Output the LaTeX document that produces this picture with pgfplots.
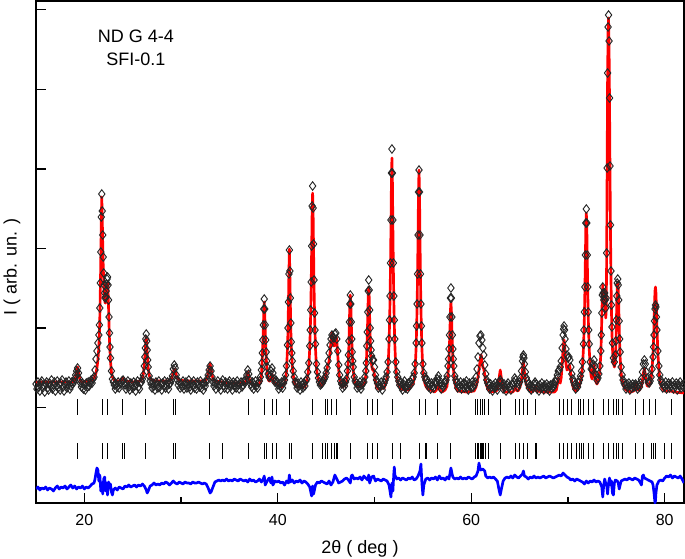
\documentclass[border=0pt]{standalone}
\usepackage{fontspec}
\setmainfont{Liberation Sans}
\usepackage{pgfplots}
\pgfplotsset{compat=1.18}
\begin{document}
\begin{tikzpicture}
\begin{axis}[
  at={(0,0)}, anchor=south west,
  scale only axis, width=486pt, height=376.5pt,
  xmin=15, xmax=82, ymin=0, ymax=502,
  axis line style={line width=1.3pt},
  xtick={20,40,60,80}, minor xtick={30,50,70},
  xtick pos=bottom, ytick pos=left,
  ytick={15.7,95.3,174.9,254.5,334.1,413.7,493.3}, yticklabels={},
  tick align=inside,
  major tick length=7.5pt, minor tick length=4.5pt,
  every tick/.style={black, line width=1pt},
  /pgf/number format/assume math mode=true,
  xticklabel style={font=\fontsize{12}{14}\selectfont, yshift=-5pt},
  xlabel={2θ ( deg )},
  xlabel style={font=\fontsize{13.5}{16}\selectfont, at={(axis description cs:0.5,-0.1006)}, anchor=base},
  ylabel={I ( arb. un. )},
  ylabel style={font=\fontsize{13.5}{16}\selectfont, at={(axis description cs:-0.037,0.47)}, anchor=center},
  clip=true,
]
% observed
\addplot[only marks, mark=diamond, mark size=3.2pt, black!85, mark options={line width=0.7pt, fill=none}] coordinates {
(15.0,119)(15.1,114)(15.2,121)(15.3,116)(15.4,112)(15.5,120)(15.6,122)(15.7,115)(15.8,118)(15.9,111)
(16.0,119)(16.1,121)(16.2,115)(16.3,113)(16.4,120)(16.5,117)(16.6,123)(16.7,114)(16.8,118)(16.9,121)
(17.0,112)(17.1,117)(17.2,122)(17.3,115)(17.4,119)(17.5,113)(17.6,120)(17.7,123)(17.8,116)(17.9,112)
(18.0,119)(18.1,121)(18.2,115)(18.3,118)(18.4,122)(18.5,114)(18.6,117)(18.7,121)(18.8,119)(18.9,121)
(19.0,124)(19.1,128)(19.2,132)(19.3,135)(19.4,130)(19.5,124)(19.6,120)(19.7,116)(19.8,120)(19.9,114)
(20.0,118)(20.1,113)(20.2,120)(20.3,116)(20.4,121)(20.5,117)(20.6,120)(20.7,123)(20.8,120)(20.9,124)
(21.0,126)(21.1,133)(21.2,144)(21.3,152)(21.4,160)(21.5,168)(21.55,178)(21.6,195)(21.65,220)(21.7,251)
(21.75,286)(21.8,309)(21.85,292)(21.9,268)(21.95,246)(22.0,230)(22.05,218)(22.1,210)(22.15,205)(22.2,206)
(22.25,212)(22.3,219)(22.35,224)(22.4,226)(22.45,218)(22.5,203)(22.55,186)(22.6,170)(22.65,156)(22.7,145)
(22.8,132)(22.9,124)(23.0,121)(23.1,118)(23.2,114)(23.3,119)(23.4,116)(23.5,121)(23.6,115)(23.7,119)
(23.8,120)(23.9,122)(24.0,123)(24.1,120)(24.2,118)(24.3,114)(24.4,119)(24.5,122)(24.6,116)(24.7,113)
(24.8,120)(24.9,118)(25.0,115)(25.1,121)(25.2,117)(25.3,112)(25.4,119)(25.5,122)(25.6,116)(25.7,114)
(25.8,120)(25.9,121)(26.0,124)(26.1,128)(26.2,137)(26.25,146)(26.3,155)(26.35,164)(26.4,169)(26.45,162)
(26.5,153)(26.55,143)(26.6,136)(26.7,127)(26.8,122)(26.9,119)(27.0,115)(27.1,120)(27.2,117)(27.3,113)
(27.4,121)(27.5,118)(27.6,115)(27.7,122)(27.8,116)(27.9,119)(28.0,113)(28.1,120)(28.2,117)(28.3,122)
(28.4,115)(28.5,118)(28.6,121)(28.7,114)(28.8,119)(28.9,120)(29.0,123)(29.1,127)(29.2,134)(29.3,138)
(29.4,135)(29.5,128)(29.6,123)(29.7,118)(29.8,121)(29.9,115)(30.0,119)(30.1,116)(30.2,122)(30.3,114)
(30.4,118)(30.5,121)(30.6,115)(30.7,119)(30.8,123)(30.9,116)(31.0,113)(31.1,120)(31.2,117)(31.3,122)
(31.4,115)(31.5,119)(31.6,114)(31.7,121)(31.8,118)(31.9,116)(32.0,122)(32.1,115)(32.2,119)(32.3,113)
(32.4,120)(32.5,117)(32.6,121)(32.7,124)(32.8,128)(32.9,133)(33.0,137)(33.1,132)(33.2,126)(33.3,121)
(33.4,117)(33.5,120)(33.6,114)(33.7,119)(33.8,122)(33.9,116)(34.0,118)(34.1,113)(34.2,120)(34.3,123)
(34.4,117)(34.5,115)(34.6,121)(34.7,118)(34.8,114)(34.9,120)(35.0,122)(35.1,116)(35.2,119)(35.3,113)
(35.4,121)(35.5,117)(35.6,120)(35.7,115)(35.8,122)(35.9,118)(36.0,114)(36.1,119)(36.2,121)(36.3,116)
(36.4,118)(36.5,122)(36.6,120)(36.7,123)(36.8,128)(36.9,133)(37.0,129)(37.1,123)(37.2,119)(37.3,116)
(37.4,121)(37.5,114)(37.6,118)(37.7,122)(37.8,117)(37.9,115)(38.0,120)(38.1,122)(38.2,126)(38.3,133)
(38.35,140)(38.4,150)(38.45,163)(38.5,178)(38.55,194)(38.6,204)(38.65,194)(38.7,178)(38.75,163)(38.8,151)
(38.85,142)(38.9,136)(39.0,129)(39.1,126)(39.2,127)(39.3,132)(39.4,135)(39.5,130)(39.6,124)(39.7,121)
(39.8,123)(39.9,121)(40.0,118)(40.1,114)(40.2,119)(40.3,116)(40.4,121)(40.5,115)(40.6,120)(40.7,123)
(40.8,128)(40.9,137)(41.0,158)(41.05,175)(41.1,201)(41.15,229)(41.2,253)(41.25,232)(41.3,205)(41.35,180)
(41.4,161)(41.45,150)(41.5,142)(41.6,132)(41.7,126)(41.8,121)(41.9,119)(42.0,115)(42.1,120)(42.2,117)
(42.3,113)(42.4,121)(42.5,118)(42.6,115)(42.7,120)(42.8,117)(42.9,122)(43.0,124)(43.1,131)(43.2,140)
(43.3,157)(43.35,173)(43.4,193)(43.45,221)(43.5,257)(43.55,297)(43.6,317)(43.65,295)(43.7,259)(43.75,223)
(43.8,190)(43.85,173)(43.9,159)(44.0,139)(44.1,131)(44.2,125)(44.3,121)(44.4,118)(44.5,119)(44.6,120)
(44.7,122)(44.8,124)(44.9,126)(45.0,130)(45.1,135)(45.2,142)(45.3,150)(45.4,158)(45.5,164)(45.6,168)
(45.7,166)(45.8,165)(45.9,169)(46.0,170)(46.1,164)(46.2,152)(46.3,138)(46.4,128)(46.5,122)(46.6,119)
(46.7,115)(46.8,120)(46.9,117)(47.0,121)(47.1,124)(47.2,132)(47.25,139)(47.3,148)(47.35,162)(47.4,181)
(47.45,199)(47.5,208)(47.55,199)(47.6,181)(47.65,164)(47.7,151)(47.75,142)(47.8,136)(47.9,126)(48.0,122)
(48.1,120)(48.2,115)(48.3,119)(48.4,116)(48.5,121)(48.6,114)(48.7,118)(48.8,120)(48.9,121)(49.0,126)
(49.1,132)(49.15,140)(49.2,157)(49.25,171)(49.3,191)(49.35,212)(49.4,223)(49.45,213)(49.5,193)(49.55,175)
(49.6,162)(49.65,153)(49.7,147)(49.8,143)(49.9,143)(50.0,136)(50.1,128)(50.2,123)(50.3,120)(50.4,115)
(50.5,119)(50.6,116)(50.7,121)(50.8,113)(50.9,118)(51.0,120)(51.1,123)(51.2,126)(51.3,131)(51.4,141)
(51.5,164)(51.55,183)(51.6,207)(51.65,240)(51.7,283)(51.75,330)(51.8,354)(51.85,330)(51.9,283)(51.95,240)
(52.0,207)(52.05,183)(52.1,164)(52.2,141)(52.3,131)(52.4,126)(52.5,122)(52.6,118)(52.7,121)(52.8,116)
(52.9,113)(53.0,119)(53.1,122)(53.2,115)(53.3,118)(53.4,114)(53.5,120)(53.6,117)(53.7,121)(53.8,119)
(53.9,124)(54.0,126)(54.1,130)(54.2,139)(54.3,160)(54.35,177)(54.4,199)(54.45,229)(54.5,268)(54.55,311)
(54.6,333)(54.65,311)(54.7,268)(54.75,229)(54.8,199)(54.85,177)(54.9,160)(55.0,139)(55.1,130)(55.2,126)
(55.3,123)(55.4,124)(55.5,120)(55.6,116)(55.7,119)(55.8,114)(55.9,120)(56.0,117)(56.1,115)(56.2,121)
(56.3,119)(56.4,121)(56.5,124)(56.6,127)(56.7,123)(56.8,119)(56.9,114)(57.0,118)(57.1,116)(57.2,120)
(57.3,121)(57.4,123)(57.5,127)(57.6,137)(57.65,144)(57.7,154)(57.75,168)(57.8,186)(57.85,205)(57.9,215)
(57.95,205)(58.0,186)(58.05,168)(58.1,154)(58.15,144)(58.2,137)(58.3,127)(58.4,123)(58.5,120)(58.6,115)
(58.7,119)(58.8,116)(58.9,121)(59.0,114)(59.1,118)(59.2,120)(59.3,115)(59.4,119)(59.5,122)(59.6,116)
(59.7,113)(59.8,120)(59.9,117)(60.0,115)(60.1,121)(60.2,116)(60.3,118)(60.4,121)(60.5,126)(60.6,134)
(60.7,146)(60.8,160)(60.9,167)(61.0,168)(61.1,163)(61.2,155)(61.3,148)(61.4,138)(61.5,129)(61.6,123)
(61.7,120)(61.8,118)(61.9,114)(62.0,119)(62.1,116)(62.2,112)(62.3,118)(62.4,115)(62.5,120)(62.6,117)
(62.7,113)(62.8,117)(62.9,121)(63.0,123)(63.1,121)(63.2,118)(63.3,114)(63.4,119)(63.5,116)(63.6,112)
(63.7,118)(63.8,120)(63.9,115)(64.0,117)(64.1,113)(64.2,119)(64.3,118)(64.4,121)(64.5,125)(64.6,123)
(64.7,120)(64.8,116)(64.9,119)(65.0,121)(65.1,125)(65.2,132)(65.3,142)(65.35,146)(65.4,148)(65.45,145)
(65.5,139)(65.6,131)(65.7,125)(65.8,122)(65.9,119)(66.0,115)(66.1,118)(66.2,113)(66.3,117)(66.4,115)
(66.5,119)(66.6,121)(66.7,119)(66.8,114)(66.9,117)(67.0,112)(67.1,118)(67.2,115)(67.3,120)(67.4,116)
(67.5,113)(67.6,118)(67.7,115)(67.8,119)(67.9,114)(68.0,117)(68.1,112)(68.2,118)(68.3,115)(68.4,119)
(68.5,116)(68.6,119)(68.7,121)(68.8,124)(68.9,128)(69.0,132)(69.1,133)(69.2,136)(69.3,142)(69.4,155)
(69.5,168)(69.55,174)(69.6,177)(69.65,173)(69.7,164)(69.8,154)(69.9,148)(70.0,145)(70.1,146)(70.2,143)
(70.3,136)(70.4,129)(70.5,124)(70.6,121)(70.7,118)(70.8,114)(70.9,118)(71.0,116)(71.1,120)(71.2,123)
(71.3,127)(71.4,132)(71.5,141)(71.6,159)(71.65,173)(71.7,191)(71.75,216)(71.8,248)(71.85,280)(71.9,294)
(71.95,280)(72.0,248)(72.05,216)(72.1,191)(72.15,173)(72.2,159)(72.3,141)(72.4,134)(72.5,133)(72.6,139)
(72.7,143)(72.8,137)(72.9,128)(73.0,123)(73.1,125)(73.2,129)(73.3,137)(73.4,152)(73.45,168)(73.5,190)
(73.55,208)(73.6,216)(73.65,210)(73.7,203)(73.75,207)(73.8,210)(73.85,203)(73.9,195)(73.95,205)(74.0,250)
(74.05,335)(74.1,430)(74.15,476)(74.2,488)(74.25,462)(74.3,405)(74.35,337)(74.4,278)(74.45,232)(74.5,198)
(74.55,176)(74.6,160)(74.7,145)(74.8,141)(74.9,148)(74.95,162)(75.0,183)(75.05,207)(75.1,220)(75.15,224)
(75.2,218)(75.25,203)(75.3,182)(75.35,164)(75.4,151)(75.5,136)(75.6,128)(75.7,123)(75.8,120)(75.9,118)
(76.0,114)(76.1,119)(76.2,116)(76.3,120)(76.4,113)(76.5,118)(76.6,115)(76.7,119)(76.8,116)(76.9,118)
(77.0,119)(77.1,117)(77.2,114)(77.3,118)(77.4,116)(77.5,120)(77.6,124)(77.7,131)(77.8,139)(77.9,143)
(78.0,139)(78.1,131)(78.2,125)(78.3,121)(78.4,120)(78.5,122)(78.6,126)(78.7,134)(78.8,146)(78.85,156)
(78.9,168)(78.95,182)(79.0,194)(79.05,198)(79.1,196)(79.15,186)(79.2,173)(79.3,152)(79.4,137)(79.5,128)
(79.6,123)(79.7,120)(79.8,115)(79.9,119)(80.0,116)(80.1,121)(80.2,114)(80.3,118)(80.4,120)(80.5,115)
(80.6,119)(80.7,117)(80.8,121)(80.9,114)(81.0,118)(81.1,116)(81.2,120)(81.3,113)(81.4,119)(81.5,117)
(81.6,121)(81.7,115)(81.8,118)(81.9,116)(82.0,119)
};
% calculated
\addplot[red, line width=2pt, line join=round] coordinates {
(15.0,121)(16.0,121)(17.0,121)(18.0,121)(18.8,121)(19.0,123)(19.1,126)(19.2,131)(19.3,136)(19.4,131)
(19.5,125)(19.6,122)(19.8,121)(20.5,122)(20.8,123)(21.0,125)(21.1,127)(21.2,130)(21.3,135)(21.4,143)
(21.5,156)(21.55,168)(21.6,186)(21.65,212)(21.7,243)(21.75,280)(21.8,306)(21.85,285)(21.9,258)(21.95,237)
(22.0,222)(22.05,211)(22.1,204)(22.15,200)(22.2,200)(22.25,206)(22.3,213)(22.35,219)(22.4,220)(22.45,212)
(22.5,196)(22.55,178)(22.6,162)(22.7,142)(22.8,131)(22.9,126)(23.0,124)(23.2,122)(23.6,122)(23.8,123)
(23.9,125)(24.0,125)(24.1,123)(24.3,122)(25.0,121)(25.8,122)(26.0,125)(26.1,129)(26.2,138)(26.3,153)
(26.35,161)(26.4,166)(26.45,159)(26.5,150)(26.6,135)(26.7,128)(26.8,125)(27.0,123)(27.5,122)(28.8,122)
(29.0,124)(29.1,127)(29.2,131)(29.3,134)(29.4,133)(29.5,128)(29.6,125)(29.8,123)(30.5,122)(32.5,122)
(32.7,125)(32.8,130)(32.9,135)(33.0,139)(33.1,134)(33.2,128)(33.3,124)(33.5,122)(35.0,120)(36.5,120)
(36.7,122)(36.8,126)(36.9,131)(37.0,127)(37.1,122)(37.3,119)(38.0,118)(38.2,121)(38.3,127)(38.35,135)
(38.4,145)(38.45,158)(38.5,172)(38.55,190)(38.6,201)(38.65,190)(38.7,172)(38.75,158)(38.8,146)(38.85,137)
(38.9,131)(39.0,124)(39.1,122)(39.2,122)(39.3,125)(39.4,129)(39.5,124)(39.6,120)(39.8,119)(39.9,120)
(40.0,118)(40.4,116)(40.7,119)(40.8,124)(40.9,132)(41.0,154)(41.05,171)(41.1,198)(41.15,230)(41.2,254)
(41.25,228)(41.3,198)(41.35,172)(41.4,156)(41.45,146)(41.5,138)(41.6,128)(41.7,122)(41.8,119)(42.0,116)
(42.8,116)(43.0,123)(43.1,127)(43.2,135)(43.3,154)(43.35,170)(43.4,189)(43.45,216)(43.5,252)(43.55,291)
(43.6,310)(43.65,291)(43.7,252)(43.75,216)(43.8,189)(43.85,170)(43.9,154)(44.0,135)(44.1,127)(44.2,123)
(44.3,120)(44.5,117)(44.7,119)(44.8,121)(44.9,124)(45.0,129)(45.1,135)(45.2,138)(45.3,142)(45.4,150)
(45.5,162)(45.55,168)(45.6,170)(45.65,167)(45.7,161)(45.8,157)(45.9,158)(45.95,162)(46.0,165)(46.05,166)
(46.1,162)(46.2,148)(46.3,133)(46.4,124)(46.5,119)(46.7,116)(47.0,118)(47.1,121)(47.2,128)(47.25,136)
(47.3,144)(47.35,157)(47.4,180)(47.45,199)(47.5,208)(47.55,199)(47.6,180)(47.65,163)(47.7,149)(47.75,140)
(47.8,133)(47.9,124)(48.0,120)(48.2,116)(48.8,117)(49.0,121)(49.1,128)(49.15,135)(49.2,153)(49.25,167)
(49.3,185)(49.35,206)(49.4,216)(49.45,206)(49.5,185)(49.55,167)(49.6,152)(49.7,138)(49.8,133)(49.85,133)
(49.9,134)(50.0,128)(50.1,121)(50.2,117)(50.4,114)(51.0,115)(51.2,121)(51.3,126)(51.4,135)(51.5,159)
(51.55,177)(51.6,201)(51.65,233)(51.7,275)(51.75,322)(51.8,345)(51.85,322)(51.9,275)(51.95,233)(52.0,201)
(52.05,177)(52.1,159)(52.2,135)(52.3,126)(52.4,121)(52.5,118)(52.7,114)(53.5,113)(53.9,118)(54.0,120)
(54.1,124)(54.2,133)(54.3,155)(54.35,173)(54.4,195)(54.45,226)(54.5,266)(54.55,311)(54.6,333)(54.65,311)
(54.7,266)(54.75,226)(54.8,195)(54.85,173)(54.9,155)(55.0,133)(55.1,124)(55.2,120)(55.3,117)(55.5,114)
(56.0,112)(56.2,111)(56.4,113)(56.5,116)(56.6,120)(56.7,115)(56.8,112)(57.0,111)(57.3,113)(57.5,117)
(57.6,129)(57.65,136)(57.7,145)(57.75,158)(57.8,174)(57.85,192)(57.9,201)(57.95,192)(58.0,174)(58.05,158)
(58.1,145)(58.15,136)(58.2,129)(58.3,120)(58.4,116)(58.6,112)(59.5,111)(60.3,112)(60.5,116)(60.6,120)
(60.7,126)(60.8,133)(60.9,141)(61.0,148)(61.05,147)(61.1,142)(61.2,136)(61.3,134)(61.4,128)(61.5,121)
(61.6,117)(61.8,113)(62.0,111)(62.6,112)(62.7,114)(62.8,118)(62.9,126)(63.0,133)(63.1,126)(63.2,118)
(63.3,114)(63.5,111)(64.3,111)(64.45,113)(64.55,116)(64.65,113)(64.8,112)(64.9,113)(65.0,115)(65.1,118)
(65.2,124)(65.3,133)(65.35,138)(65.4,140)(65.45,137)(65.5,131)(65.6,123)(65.7,118)(65.8,117)(65.9,114)
(66.1,112)(66.3,111)(66.5,113)(66.6,117)(66.7,115)(66.8,112)(67.5,111)(68.6,111)(68.8,113)(68.9,118)
(69.0,125)(69.1,121)(69.2,120)(69.3,125)(69.4,138)(69.5,154)(69.55,160)(69.6,163)(69.65,159)(69.7,150)
(69.8,139)(69.9,133)(70.0,134)(70.1,137)(70.15,138)(70.2,136)(70.3,128)(70.4,121)(70.5,117)(70.6,114)
(70.8,112)(71.0,114)(71.2,118)(71.3,122)(71.4,127)(71.5,136)(71.6,154)(71.65,168)(71.7,186)(71.75,211)
(71.8,243)(71.85,276)(71.9,290)(71.95,276)(72.0,243)(72.05,211)(72.1,186)(72.15,168)(72.2,154)(72.3,136)
(72.4,127)(72.5,124)(72.6,130)(72.65,136)(72.7,138)(72.75,134)(72.8,127)(72.9,121)(73.0,119)(73.1,121)
(73.2,125)(73.3,133)(73.4,149)(73.45,165)(73.5,185)(73.55,207)(73.6,218)(73.65,208)(73.7,198)(73.75,206)
(73.8,213)(73.85,200)(73.9,185)(73.95,190)(74.0,240)(74.05,330)(74.1,425)(74.15,472)(74.2,485)(74.25,458)
(74.3,400)(74.35,330)(74.4,270)(74.45,225)(74.5,192)(74.55,170)(74.6,155)(74.7,140)(74.8,136)(74.9,142)
(74.95,155)(75.0,175)(75.05,200)(75.1,216)(75.15,221)(75.2,214)(75.25,198)(75.3,176)(75.35,158)(75.4,145)
(75.5,130)(75.6,123)(75.7,119)(75.8,116)(76.0,113)(76.5,111)(76.8,112)(76.9,115)(77.0,120)(77.1,116)
(77.2,113)(77.4,113)(77.6,117)(77.7,122)(77.8,130)(77.9,134)(78.0,129)(78.1,121)(78.2,117)(78.4,117)
(78.5,119)(78.6,124)(78.7,134)(78.8,150)(78.85,162)(78.9,178)(78.95,198)(79.0,212)(79.05,216)(79.1,210)
(79.15,194)(79.2,176)(79.3,150)(79.4,134)(79.5,124)(79.6,118)(79.8,114)(80.0,112)(80.6,112)(81.0,111)
(82.0,110)
};
% Bragg positions, phase 1
\addplot[only marks, mark=|, mark size=6pt, black, mark options={line width=0.75pt}] coordinates {
(19.25,96)(21.84,96)(22.36,96)(23.98,96)(26.36,96)(29.23,96)(29.40,96)(32.96,96)(36.93,96)(38.59,96)
(39.42,96)(39.87,96)(41.18,96)(43.63,96)(44.95,96)(45.19,96)(45.60,96)(46.05,96)(47.54,96)(49.30,96)
(49.82,96)(50.34,96)(51.82,96)(54.65,96)(55.24,96)(56.52,96)(57.90,96)(60.42,96)(60.70,96)(60.94,96)
(61.15,96)(61.39,96)(61.80,96)(63.01,96)(64.57,96)(65.01,96)(65.36,96)(65.78,96)(66.64,96)(69.16,96)
(69.57,96)(69.92,96)(70.37,96)(71.06,96)(71.30,96)(71.64,96)(72.16,96)(72.68,96)(73.65,96)(74.17,96)
(74.69,96)(75.03,96)(75.27,96)(75.62,96)(77.03,96)(77.80,96)(78.48,96)(79.04,96)(80.66,96)
};
% Bragg positions, phase 2
\addplot[only marks, mark=|, mark size=6pt, black, mark options={line width=0.75pt}] coordinates {
(19.25,52)(21.84,52)(22.36,52)(23.98,52)(24.18,52)(26.36,52)(29.23,52)(29.40,52)(32.96,52)(34.27,52)
(36.93,52)(38.59,52)(38.87,52)(39.42,52)(39.87,52)(41.18,52)(41.42,52)(43.63,52)(44.67,52)(44.95,52)
(45.19,52)(45.60,52)(45.88,52)(46.05,52)(46.22,52)(47.54,52)(49.30,52)(49.82,52)(50.34,52)(51.82,52)
(52.68,52)(54.65,52)(55.24,52)(55.41,52)(56.52,52)(57.90,52)(60.42,52)(60.60,52)(60.70,52)(60.76,52)
(60.94,52)(61.11,52)(61.15,52)(61.28,52)(61.46,52)(61.80,52)(63.01,52)(64.57,52)(65.01,52)(65.36,52)
(65.78,52)(66.64,52)(66.74,52)(69.16,52)(69.57,52)(69.92,52)(70.37,52)(70.90,52)(71.17,52)(71.40,52)
(71.64,52)(72.16,52)(72.68,52)(73.65,52)(74.17,52)(74.69,52)(75.03,52)(75.27,52)(75.62,52)(77.03,52)
(77.80,52)(78.63,52)(78.80,52)(79.04,52)(79.97,52)(80.66,52)
};
% difference
\addplot[blue, line width=2pt, line join=round] coordinates {
(15.0,14)(15.2,16)(15.4,13)(15.6,15)(15.8,14)(16.0,16)(16.2,13)(16.4,15)(16.6,14)(16.8,12)
(17.0,15)(17.2,17)(17.4,14)(17.6,16)(17.8,15)(18.0,17)(18.2,14)(18.4,16)(18.6,18)(18.8,15)
(19.0,17)(19.2,14)(19.4,16)(19.6,15)(19.8,17)(20.0,14)(20.2,16)(20.4,15)(20.6,17)(20.8,19)
(21.0,20)(21.1,24)(21.2,30)(21.3,35)(21.4,33)(21.5,22)(21.6,28)(21.7,12)(21.8,20)(21.9,9)
(22.0,24)(22.1,26)(22.2,12)(22.3,20)(22.4,8)(22.5,21)(22.6,17)(22.7,19)(22.8,11)(22.9,8)
(23.0,13)(23.2,15)(23.4,13)(23.6,16)(23.8,15)(24.0,14)(24.2,17)(24.4,16)(24.6,18)(24.8,16)
(25.0,17)(25.2,18)(25.4,16)(25.6,18)(25.8,17)(26.0,19)(26.2,17)(26.4,13)(26.5,10)(26.6,12)
(26.8,17)(27.0,18)(27.2,20)(27.4,18)(27.6,19)(27.8,18)(28.0,20)(28.2,19)(28.4,21)(28.6,20)
(28.8,18)(29.0,20)(29.2,22)(29.4,20)(29.6,19)(29.8,21)(30.0,20)(30.2,19)(30.4,21)(30.6,20)
(30.8,20)(31.0,19)(31.2,21)(31.4,20)(31.6,20)(31.8,21)(32.0,20)(32.2,19)(32.4,20)(32.6,19)
(32.8,15)(33.0,10)(33.1,11)(33.3,16)(33.5,21)(33.7,22)(33.9,23)(34.1,22)(34.3,23)(34.5,22)
(34.7,24)(34.9,22)(35.1,23)(35.3,22)(35.5,24)(35.7,23)(35.9,22)(36.1,24)(36.3,23)(36.5,22)
(36.7,23)(36.9,21)(37.1,24)(37.3,22)(37.5,23)(37.7,21)(37.9,22)(38.1,24)(38.3,21)(38.5,24)
(38.6,27)(38.7,18)(38.9,22)(39.1,25)(39.3,20)(39.4,26)(39.5,18)(39.7,22)(39.9,21)(40.1,22)
(40.3,20)(40.5,21)(40.7,18)(40.9,22)(41.1,20)(41.2,28)(41.3,21)(41.5,23)(41.7,20)(41.9,22)
(42.1,21)(42.3,23)(42.5,20)(42.7,22)(42.9,21)(43.1,19)(43.3,16)(43.5,7)(43.6,17)(43.7,9)
(43.9,18)(44.1,21)(44.3,20)(44.5,22)(44.7,21)(44.9,20)(45.1,19)(45.3,22)(45.5,18)(45.7,21)
(45.9,28)(46.1,24)(46.3,20)(46.5,21)(46.7,22)(46.9,24)(47.1,25)(47.3,23)(47.5,20)(47.6,27)
(47.7,28)(47.9,24)(48.1,25)(48.3,24)(48.5,26)(48.7,23)(48.9,27)(49.1,25)(49.3,23)(49.4,28)
(49.5,20)(49.7,26)(49.9,27)(50.1,22)(50.3,24)(50.5,23)(50.7,22)(50.9,24)(51.1,23)(51.3,22)
(51.5,18)(51.7,6)(51.8,20)(51.9,12)(52.0,30)(52.05,36)(52.1,28)(52.3,24)(52.5,25)(52.7,23)
(52.9,25)(53.1,24)(53.3,23)(53.5,25)(53.7,24)(53.9,26)(54.1,23)(54.3,24)(54.5,27)(54.7,32)
(54.8,39)(54.9,20)(55.0,8)(55.1,18)(55.3,24)(55.5,25)(55.7,23)(55.9,25)(56.1,24)(56.3,26)
(56.5,23)(56.7,27)(56.9,24)(57.1,25)(57.3,23)(57.5,26)(57.7,24)(57.9,35)(58.0,30)(58.1,26)
(58.3,24)(58.5,25)(58.7,24)(58.9,26)(59.1,24)(59.3,25)(59.5,24)(59.7,26)(59.9,25)(60.1,24)
(60.3,26)(60.5,27)(60.7,32)(60.8,40)(60.9,35)(61.0,33)(61.2,34)(61.4,32)(61.5,27)(61.7,25)
(61.9,26)(62.1,25)(62.3,26)(62.5,24)(62.7,22)(62.9,12)(63.0,8)(63.1,13)(63.3,22)(63.5,25)
(63.7,26)(63.9,25)(64.1,27)(64.3,25)(64.5,28)(64.7,26)(64.9,25)(65.1,27)(65.3,29)(65.4,32)
(65.5,27)(65.7,26)(65.9,24)(66.1,26)(66.3,25)(66.5,27)(66.7,25)(66.9,26)(67.1,25)(67.3,26)
(67.5,27)(67.7,25)(67.9,26)(68.1,27)(68.3,26)(68.5,25)(68.7,26)(68.9,27)(69.1,28)(69.3,27)
(69.5,30)(69.7,28)(69.9,26)(70.1,25)(70.3,23)(70.5,24)(70.7,22)(70.9,24)(71.1,23)(71.3,22)
(71.5,21)(71.7,19)(71.9,22)(72.1,20)(72.3,22)(72.5,21)(72.7,23)(72.9,21)(73.1,22)(73.3,21)
(73.5,16)(73.6,6)(73.7,18)(73.8,24)(73.9,20)(74.0,18)(74.1,9)(74.2,20)(74.3,25)(74.4,18)
(74.5,22)(74.6,10)(74.7,8)(74.8,20)(74.9,23)(75.1,22)(75.2,20)(75.3,14)(75.4,18)(75.5,22)
(75.7,23)(75.9,24)(76.1,23)(76.3,25)(76.5,24)(76.7,23)(76.9,25)(77.1,24)(77.3,23)(77.5,20)
(77.6,18)(77.7,27)(77.8,28)(77.9,25)(78.1,24)(78.3,23)(78.5,22)(78.7,21)(78.8,18)(78.9,10)
(79.0,0)(79.05,2)(79.1,10)(79.2,18)(79.4,22)(79.6,23)(79.8,22)(80.0,25)(80.2,27)(80.4,26)
(80.6,28)(80.8,25)(81.0,27)(81.2,26)(81.4,25)(81.6,27)(81.8,24)(82.0,20)
};
\node[font=\fontsize{13.5}{16}\selectfont, anchor=center] at (axis description cs:0.1543,0.929) {ND G 4-4};
\node[font=\fontsize{13.5}{16}\selectfont, anchor=center] at (axis description cs:0.1543,0.884) {SFI-0.1};
\end{axis}
\pgfresetboundingbox
\path[use as bounding box] (-27pt,-41.25pt) rectangle (486.75pt,377.25pt);
\end{tikzpicture}
\end{document}
